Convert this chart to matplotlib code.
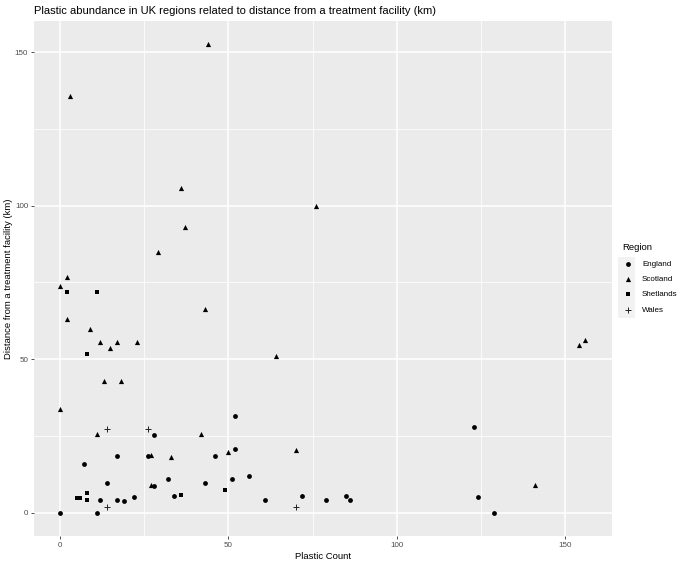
import matplotlib
matplotlib.use("Agg")
import matplotlib.pyplot as plt
from matplotlib.ticker import MultipleLocator
from matplotlib.patches import Rectangle
import numpy as np

plt.rcParams['font.family'] = ['Liberation Sans', 'DejaVu Sans']

# plastic count (x) and distance to treatment facility in km (y), per region
england_x = [0, 11, 7, 17, 26, 14, 12, 17, 19, 22, 28, 52, 46, 52, 32, 43, 51, 56,
             34, 61, 72, 79, 85, 86, 123, 124, 129, 28]
england_y = [0, 0, 15.8, 18.6, 18.6, 9.8, 4.0, 4.3, 3.8, 5.1, 25.4, 31.5, 18.6, 20.8,
             11.1, 9.8, 11.1, 11.9, 5.6, 4.0, 5.6, 4.0, 5.6, 4.0, 28.0, 5.0, 0, 8.8]

scotland_x = [0, 13, 18, 11, 27, 27, 42, 33, 50, 70, 141, 2, 0, 2, 9, 12, 15, 17, 23,
              3, 44, 36, 37, 76, 64, 29, 43, 154, 156]
scotland_y = [33.7, 43, 43, 25.8, 18.9, 9.2, 25.8, 18.1, 19.9, 20.4, 9.1, 76.8, 73.9,
              63.1, 59.7, 55.5, 53.7, 55.5, 55.5, 135.7, 152.5, 105.8, 92.9, 99.9,
              50.9, 84.8, 66.4, 54.7, 56.1]

shetlands_x = [2, 11, 8, 8, 5, 6, 8, 36, 49]
shetlands_y = [72.0, 72.0, 51.8, 6.5, 4.9, 4.9, 4.1, 5.8, 7.4]

wales_x = [14, 26, 14, 70]
wales_y = [27.4, 27.4, 2.0, 1.9]

regions = ["England", "Scotland", "Shetlands", "Wales"]
xs = [england_x, scotland_x, shetlands_x, wales_x]
ys = [england_y, scotland_y, shetlands_y, wales_y]
markers = ["o", "^", "s", "+"]
sizes = [12, 14, 11, 24]

fig = plt.figure(figsize=(6.88, 5.65), dpi=100)
ax = fig.add_axes([0.049, 0.051, 0.840, 0.912])
ax.set_facecolor("#EBEBEB")

for name, x, y, m, s in zip(regions, xs, ys, markers, sizes):
    if m == "+":
        ax.scatter(x, y, marker=m, s=s, c="#222222", linewidths=0.7, label=name, zorder=3)
    else:
        ax.scatter(x, y, marker=m, s=s, c="black", linewidths=0, label=name, zorder=3)

# ggplot style 5% expansion
allx = np.concatenate([np.array(v, float) for v in xs])
ally = np.concatenate([np.array(v, float) for v in ys])
dx = (allx.max() - allx.min()) * 0.05
dy = (ally.max() - ally.min()) * 0.05
ax.set_xlim(allx.min() - dx, allx.max() + dx)
ax.set_ylim(ally.min() - dy, ally.max() + dy)

ax.xaxis.set_major_locator(MultipleLocator(50))
ax.yaxis.set_major_locator(MultipleLocator(50))
ax.xaxis.set_minor_locator(MultipleLocator(25))
ax.yaxis.set_minor_locator(MultipleLocator(25))
ax.grid(which="major", color="white", linewidth=1.1)
ax.grid(which="minor", color="white", linewidth=0.55)
ax.set_axisbelow(True)
for sp in ax.spines.values():
    sp.set_visible(False)
ax.tick_params(which="major", length=2.5, width=0.6, color="#333333",
               labelsize=5.8, labelcolor="#4D4D4D", pad=1.5)
ax.tick_params(which="minor", length=0)

ax.set_xlabel("Plastic Count", fontsize=6.8, labelpad=2)
ax.set_ylabel("Distance from a treatment facility (km)", fontsize=6.8, labelpad=0)
ax.yaxis.set_label_coords(-0.036, 0.5)
ax.set_title("Plastic abundance in UK regions related to distance from a treatment facility (km)",
             fontsize=8, loc="left", pad=5)

leg = ax.legend(loc="center left", bbox_to_anchor=(1.005, 0.5), frameon=False,
                title="Region", fontsize=5.8, title_fontsize=6.8,
                handletextpad=0.9, labelspacing=0.95, borderaxespad=0.5,
                handlelength=1.6)
leg._legend_box.align = "left"

# grey key backgrounds like ggplot legend keys
fig.canvas.draw()
rend = fig.canvas.get_renderer()
tb = [t.get_window_extent(rend) for t in leg.get_texts()]
cys = [(b.y0 + b.y1) / 2 for b in tb]
step = abs(cys[0] - cys[1])
kx = tb[0].x0 - 24
W, H = fig.bbox.width, fig.bbox.height
rect = Rectangle((kx / W, (min(cys) - step / 2) / H), 17 / W, (step * 4) / H,
                 transform=fig.transFigure, facecolor="#F2F2F2", edgecolor="none", zorder=-1)
fig.add_artist(rect)
leg.set_zorder(5)

fig.savefig("out.png", dpi=100)
